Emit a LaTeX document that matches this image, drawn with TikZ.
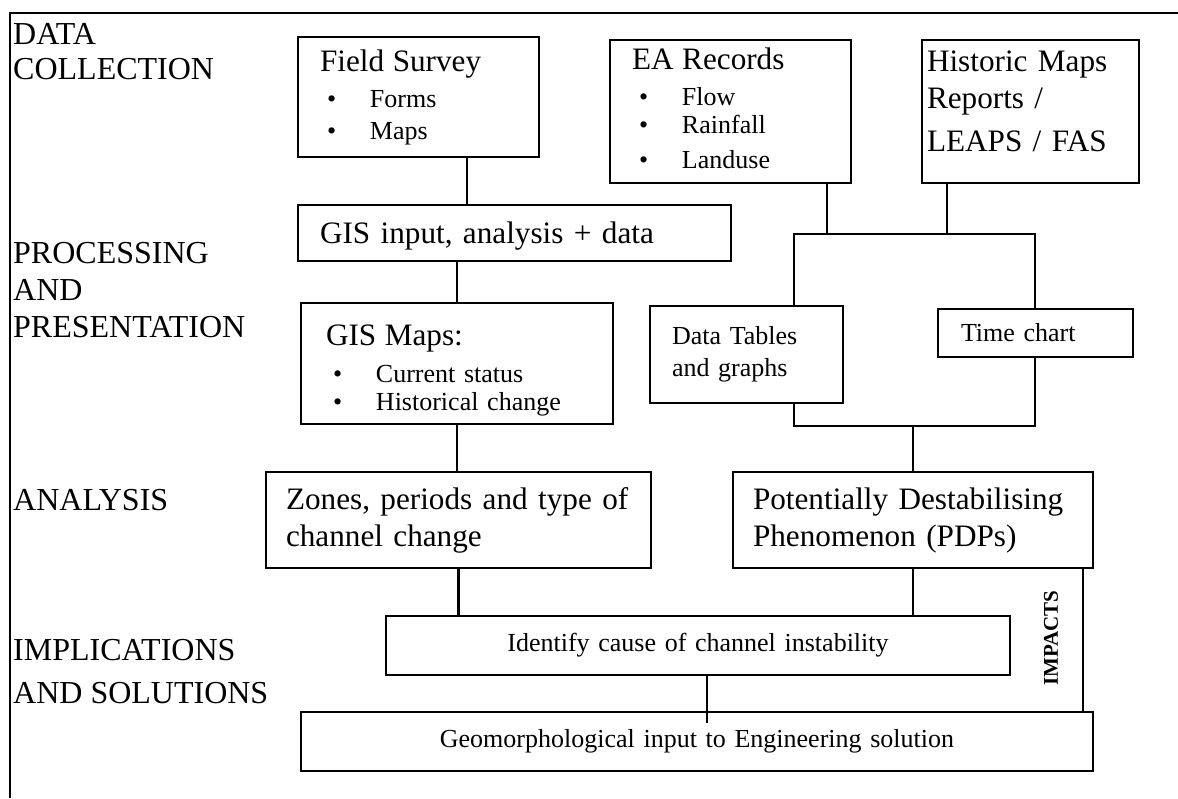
\documentclass[tikz,border=0pt]{standalone}
\usepackage{fontspec}
\setmainfont{Liberation Serif}
\usetikzlibrary{positioning, calc}
\newcommand{\bitem}[1]{\hspace*{3.5pt}\makebox[21.5pt][l]{\textbullet}#1}
\newcommand{\hd}{\fontsize{15.6}{18.5}\selectfont}

\begin{document}
\begin{tikzpicture}[
        x=0.5pt, y=-0.5pt,
        line width=1.2pt,
        font=\fontsize{13}{16}\selectfont,
        stage/.style={anchor=west, align=left, inner sep=0pt, font=\fontsize{16}{18.5}\selectfont},
        box/.style={rectangle, draw, align=left, inner xsep=11pt, inner ysep=0pt},
        midbox/.style={box, align=center, inner xsep=8pt},
        impact/.style={font=\fontsize{10.5}{12}\selectfont\bfseries, rotate=90, inner sep=0pt}
    ]
    \useasboundingbox (0,0) rectangle (1178,798);

    % Frame
    \draw (1178,13) -- (10,13) -- (10,798);

    % Stage labels
    \node (collect) [stage] at (12,51.5) {DATA\\[-1pt]COLLECTION};
    \node (process) [stage] at (12,290) {PROCESSING\\AND\\PRESENTATION};
    \node (analyse) [stage] at (12,500) {ANALYSIS};
    \node (implic) [stage] at (12,671.5) {IMPLICATIONS\\[3pt]AND SOLUTIONS};

    % Nodes
    \node (survey) [box, text width=98.5pt, minimum height=60pt] at (418.5,97)
        {{\hd Field Survey}\\[2pt]\bitem{Forms}\\\bitem{Maps}};
    \node (records) [box, text width=98.5pt, minimum height=71.5pt] at (730.5,111.5)
        {{\hd EA Records}\\[2pt]\bitem{Flow}\\[-2pt]\bitem{Rainfall}\\[1.5pt]\bitem{Landuse}\\[-13pt]\mbox{}};
    \node (historic) [box, inner xsep=2.5pt, text width=103.5pt, minimum height=71.5pt, font=\hd] at (1030.5,111.5)
        {Historic Maps\\Reports /\\[3pt]LEAPS / FAS\\[-8pt]\mbox{}};

    \node (gisin) [box, text width=194.5pt, minimum height=28pt, text height=13.5pt, font=\hd] at (514.5,233)
        {GIS input, analysis + data};
    \node (gismaps) [box, inner xsep=12.5pt, text width=131pt, minimum height=60.5pt, text height=17.5pt] at (457,363.5)
        {{\hd GIS Maps:}\\[2.5pt]\bitem{Current status}\\[-2pt]\bitem{Historical change}};
    \node (tables) [box, text width=74.5pt, minimum height=48.5pt] at (746.5,354.5)
        {Data Tables\\and graphs};
    \node (timechart) [box, inner xsep=11.5pt, text width=74.5pt, minimum height=24pt] at (1035.5,333)
        {Time chart};

    \node (zones) [box, inner xsep=10pt, text width=172.5pt, minimum height=48pt, font=\hd] at (458.5,520)
        {\mbox{Zones, periods and type of}\\channel change};
    \node (pdp) [box, inner xsep=10pt, text width=160pt, minimum height=48pt, font=\hd] at (913,520)
        {\mbox{Potentially Destabilising}\\Phenomenon (PDPs)};

    \node (identify) [midbox, text width=296pt, minimum height=29.5pt] at (698,645.5)
        {Identify cause of channel instability};
    \node (geomorph) [midbox, text width=380pt, minimum height=29.5pt] at (697,741.5)
        {Geomorphological input to Engineering solution};
    \node (impacts) [impact] at (1051,638) {IMPACTS};

    % Connectors
    \coordinate (split) at (794,234);
    \coordinate (splitr) at (1035,234);
    \coordinate (merge) at (794,426);
    \coordinate (merger) at (1035,426);

    \draw ([xshift=24.25pt]survey.south) -- ([xshift=24.25pt]survey.south |- gisin.north);
    \draw (gisin.south -| gismaps.north) -- (gismaps.north);
    \draw (gismaps.south) -- (gismaps.south |- zones.north);
    \draw (zones.south) -- (zones.south |- identify.north);

    \draw ([xshift=48.25pt]records.south) -- ([xshift=48.25pt]records.south |- split);
    \draw ([xshift=-41.75pt]historic.south) -- ([xshift=-41.75pt]historic.south |- split);
    \draw (tables.north -| split) |- (splitr) -- (timechart.north -| splitr);
    \draw (tables.south -| merge) |- (merger) -- (timechart.south -| merger);
    \draw (pdp.north) -- (pdp.north |- merge);

    \draw (pdp.south) -- (pdp.south |- identify.north);
    \draw ([xshift=4.5pt]identify.south) -- ++(0,47);
    \draw ([xshift=-5.5pt]pdp.south east) -- ([xshift=-5.5pt]pdp.south east |- geomorph.north);

\end{tikzpicture}
\end{document}
